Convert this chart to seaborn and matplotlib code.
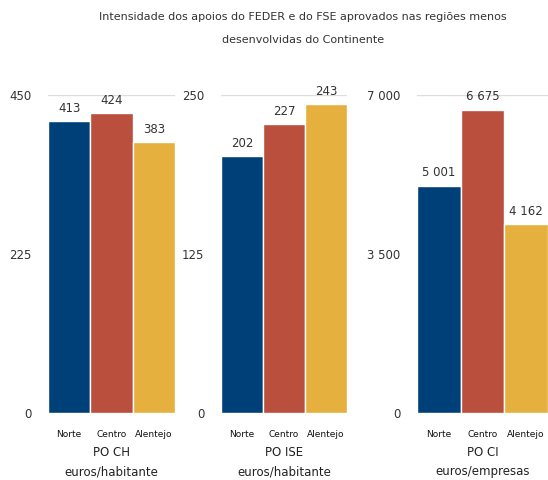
import numpy as np
import pandas as pd
import matplotlib
matplotlib.use("Agg")
import matplotlib.pyplot as plt
import seaborn as sns

regioes = ["Norte", "Centro", "Alentejo"]
po_ch = [413, 424, 383]
po_ise = [202, 227, 243]
po_ci = [5001, 6675, 4162]
paineis = ["PO CH", "PO ISE", "PO CI"]
unidades = ["euros/habitante", "euros/habitante", "euros/empresas"]
ymax = [450, 250, 7000]
cores = ["#004079", "#b94f3c", "#e6b03f"]

sns.set_theme(style="white")
plt.rcParams['font.family'] = ['DejaVu Sans']

def fmt(v):
    return f"{v:,}".replace(",", " ")

W, H = 548, 480
fig = plt.figure(figsize=(W / 100, H / 100), dpi=100)

# pixel extents of each panel's plot area
boxes = [(48, 175), (221, 347), (417, 548)]
top, bottom = 95, 413

for i, (vals, (x0, x1)) in enumerate(zip([po_ch, po_ise, po_ci], boxes)):
    ax = fig.add_axes([x0 / W, (H - bottom) / H, (x1 - x0) / W, (bottom - top) / H])
    df = pd.DataFrame({"regiao": regioes, "valor": vals})
    sns.barplot(data=df, x="regiao", y="valor", hue="regiao", palette=cores,
                saturation=1, width=1, edgecolor="white", linewidth=1,
                legend=False, ax=ax, zorder=2)
    ax.set_xlim(-0.5, 2.5)
    ax.set_ylim(0, ymax[i])
    ticks = [0, ymax[i] / 2, ymax[i]]
    ax.set_yticks(ticks)
    ax.set_yticklabels([fmt(int(t)) for t in ticks], fontsize=8.5, color="#333333")
    ax.tick_params(axis="y", length=0, pad=12)
    ax.tick_params(axis="x", length=0, pad=12, labelsize=6.5, labelcolor="#111111")
    ax.set_xlabel("")
    ax.set_ylabel("")
    ax.grid(axis="y", color="#dddddd", linewidth=1, zorder=0)
    ax.set_axisbelow(True)
    for s in ax.spines.values():
        s.set_visible(False)
    for j, v in enumerate(vals):
        ax.text(j, v + ymax[i] * 0.02, fmt(v), ha="center", va="bottom",
                fontsize=8.5, color="#333333")
    cx = (x0 + x1) / 2 / W
    fig.text(cx, (H - 453) / H, paineis[i], ha="center", va="center",
             fontsize=8.5, color="#222222")
    fig.text(cx, (H - 472) / H, unidades[i], ha="center", va="center",
             fontsize=8.5, color="#222222")

fig.text(303 / W, (H - 17) / H,
         "Intensidade dos apoios do FEDER e do FSE aprovados nas regiões menos",
         ha="center", va="center", fontsize=8, color="#333333")
fig.text(303 / W, (H - 40) / H, "desenvolvidas do Continente",
         ha="center", va="center", fontsize=8, color="#333333")

fig.savefig("out.png", dpi=100)
